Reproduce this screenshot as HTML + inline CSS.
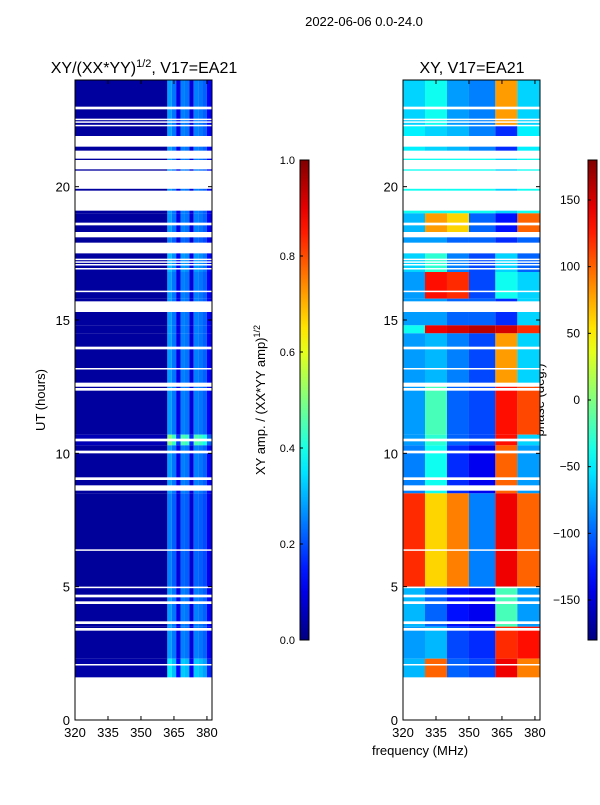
<!DOCTYPE html>
<html><head><meta charset="utf-8"><style>
body{margin:0;background:#fff;}
svg text{font-family:"Liberation Sans",sans-serif;fill:#000;}
</style></head><body>
<svg id="c" width="600" height="800" xmlns="http://www.w3.org/2000/svg">
<rect width="600" height="800" fill="#fff"/>
<text x="364" y="26" font-size="13" text-anchor="middle">2022-06-06 0.0-24.0</text>
<text x="144" y="73" font-size="16" text-anchor="middle">XY/(XX*YY)<tspan dy="-6" font-size="11">1/2</tspan><tspan dy="6">, V17=EA21</tspan></text>
<text x="472" y="73" font-size="16" text-anchor="middle">XY, V17=EA21</text>
<text transform="translate(45,400) rotate(-90)" font-size="13" text-anchor="middle">UT (hours)</text>
<text transform="translate(265,400) rotate(-90)" font-size="13" text-anchor="middle">XY amp. / (XX*YY amp)<tspan dy="-5" font-size="9">1/2</tspan></text>
<text transform="translate(544,400) rotate(-90)" font-size="13" text-anchor="middle">phase (deg.)</text>
<text x="420" y="755" font-size="13" text-anchor="middle">frequency (MHz)</text>
<g id="g"></g>
</svg>
<script>
const blockStart=[24,22.3,21.3,19.0,18.2,17.5,16.8,15.8,14.8,14.5,12.5,10.7,10.3,8.5,5.0,3.5,2.3];
const blockEnd=[22.3,21.3,19.0,18.2,17.5,16.8,15.8,14.8,14.5,12.5,10.7,10.3,8.5,5.0,3.5,2.3,1.6];
const phaseBinEdges=[320,330,340,350,362,372,383];
const phaseValues=[
[-60,-40,-80,-90,80,-60],
[-50,-60,-70,-90,-120,-50],
[-40,-40,-40,-40,-60,-40],
[-70,80,60,-100,-130,100],
[-80,-80,-100,-100,-120,-100],
[-60,-30,-90,-110,-60,-100],
[-80,130,120,-110,-40,-60],
[-80,-80,-100,-100,-120,-60],
[-40,140,150,160,150,120],
[-80,-70,-90,-110,80,-60],
[-80,-20,-100,-110,130,110],
[-80,-30,-100,-110,130,-60],
[-90,-40,-120,-140,100,-80],
[120,60,90,-90,140,100],
[-70,-100,-130,-140,-20,-80],
[-80,-70,-110,-120,120,130],
[-70,100,-100,-110,140,90]];
const ampScale=[1,1,1,1,0.9,1.1,1,1,1,1,1,1.8,1,0.9,1,1,1.3];
const ampBinEdges=[320,362,364,366,368,370,372,374,376,378,380,383];
const ampProfile=[0.03,0.28,0.24,0.1,0.25,0.24,0.09,0.25,0.24,0.22,0.12];
const gapStart=[23.0,22.55,22.45,22.32,21.9,21.35,21.0,20.6,19.85,18.65,18.3,17.9,17.3,17.2,17.1,16.95,16.1,15.7,14.0,13.2,12.65,12.45,10.55,10.1,9.1,8.8,6.4,5.0,4.7,4.45,3.7,3.45,2.1];
const gapEnd=[22.9,22.5,22.4,22.28,21.5,21.05,20.65,19.92,19.1,18.55,18.1,17.5,17.25,17.15,17.05,16.9,16.05,15.3,13.9,13.15,12.5,12.35,10.45,10.0,9.0,8.6,6.35,4.95,4.6,4.35,3.6,3.35,2.05];
const yTicks=[0,5,10,15,20];
const xTicks=[320,335,350,365,380];
const ampTicks=[0.0,0.2,0.4,0.6,0.8,1.0];
const phaseTicks=[-150,-100,-50,0,50,100,150];

const NS="http://www.w3.org/2000/svg";
const g=document.getElementById('g');
const Y0=720,Y1=80;
const yS=h=>Y0-(h/24)*(Y0-Y1);
const panels=[{x0:75,x1:212},{x0:403,x1:540}];
const xS=(p,f)=>p.x0+(f-320)/(382.3-320)*(p.x1-p.x0);
function jet(v){v=Math.max(0,Math.min(1,v));
 const c=t=>Math.round(255*Math.max(0,Math.min(1,1.5-Math.abs(4*v-t))));
 return `rgb(${c(3)},${c(2)},${c(1)})`;}
function el(t,a){const e=document.createElementNS(NS,t);for(const k in a)e.setAttribute(k,a[k]);g.appendChild(e);return e;}
function clampX(p,f){return Math.min(p.x1,xS(p,f));}
blockStart.forEach((s,i)=>{
 for(let j=0;j<ampProfile.length;j++){
  const p=panels[0];const xa=xS(p,ampBinEdges[j]),xb=clampX(p,ampBinEdges[j+1]);
  const r=el('rect',{x:xa,y:yS(s),width:xb-xa,height:yS(blockEnd[i])-yS(s),fill:jet(ampProfile[j]*ampScale[i])});
  
  
 }
 for(let j=0;j<6;j++){
  const p=panels[1];const xa=xS(p,phaseBinEdges[j]),xb=clampX(p,phaseBinEdges[j+1]);
  const r=el('rect',{x:xa,y:yS(s),width:xb-xa,height:yS(blockEnd[i])-yS(s),fill:jet((phaseValues[i][j]+180)/360)});
  
  
 }
});
panels.forEach(p=>{gapStart.forEach((s,i)=>{
 const r=el('rect',{x:p.x0,y:yS(s),width:p.x1-p.x0,height:Math.max(1.5,yS(gapEnd[i])-yS(s)),fill:'#fff'});
 
 
});});
panels.forEach((p,pi)=>{
 const f=el('rect',{x:p.x0,y:Y1,width:p.x1-p.x0,height:Y0-Y1,fill:'none',stroke:'#000','stroke-width':1});
 
 
 yTicks.forEach(t=>{const y=yS(t);
  el('line',{x1:p.x0,x2:p.x0+4,y1:y,y2:y,stroke:'#000'});
  el('line',{x1:p.x1,x2:p.x1-4,y1:y,y2:y,stroke:'#000'});
  const tx=el('text',{x:p.x0-5,y:y+5,'font-size':13,'text-anchor':'end'});tx.textContent=t;
  
  
 });
 xTicks.forEach(t=>{const x=xS(p,t);
  el('line',{x1:x,x2:x,y1:Y0,y2:Y0-4,stroke:'#000'});
  el('line',{x1:x,x2:x,y1:Y1,y2:Y1+4,stroke:'#000'});
  const tx=el('text',{x:x,y:Y0+17,'font-size':13,'text-anchor':'middle'});tx.textContent=t;
  
  
 });
});
const defs=document.createElementNS(NS,'defs');g.appendChild(defs);
const lg=document.createElementNS(NS,'linearGradient');lg.setAttribute('id','jet');
lg.setAttribute('x1','0');lg.setAttribute('y1','1');lg.setAttribute('x2','0');lg.setAttribute('y2','0');
for(let k=0;k<=20;k++){const s=document.createElementNS(NS,'stop');s.setAttribute('offset',k/20);s.setAttribute('stop-color',jet(k/20));lg.appendChild(s);}
defs.appendChild(lg);
const CB0=640,CB1=160;
[[300,ampTicks,0,1,'amp-colorbar','left'],[588,phaseTicks,-180,180,'phase-colorbar','right']].forEach(([x,ticks,lo,hi,name,side])=>{
 const r=el('rect',{x:x,y:CB1,width:9,height:CB0-CB1,fill:'url(#jet)',stroke:'#000'});
 
 
 ticks.forEach(t=>{const y=CB0-(t-lo)/(hi-lo)*(CB0-CB1);
  el('line',{x1:x,x2:x+3,y1:y,y2:y,stroke:'#000'});
  const tx=el('text',{x:side==='left'?x-5:x-8,y:y+4,'font-size':side==='left'?11:12,'text-anchor':'end'});
  tx.textContent=side==='left'?t.toFixed(1):(t<0?'\u2212'+(-t):t);
  
  
 });
});
</script>
</body></html>
